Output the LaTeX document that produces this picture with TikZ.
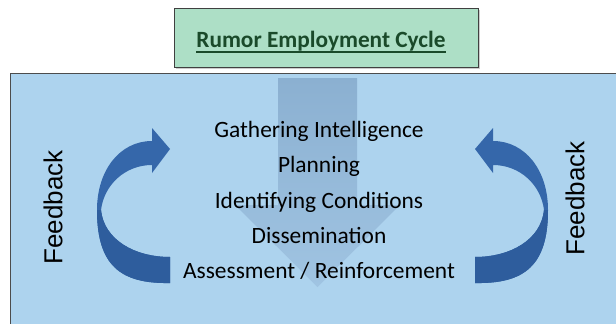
\documentclass[tikz,border=0pt]{standalone}
\usepackage{fontspec}
\setmainfont{Carlito}
\newfontfamily\fbfont{Liberation Sans}
\definecolor{panelblue}{HTML}{ADD3EE}
\definecolor{titlegreen}{HTML}{ADDFC6}
\definecolor{titletext}{HTML}{1A4A2A}
\definecolor{loopblue}{HTML}{3567AA}
\definecolor{loopdark}{HTML}{2E5D9D}
\definecolor{shafttop}{HTML}{8BB0D1}
\definecolor{shaftbot}{HTML}{A0C4E2}
\begin{document}
\begin{tikzpicture}[x=1pt,y=-1pt,
  stage/.style={font=\fontsize{23.4}{23.4}\selectfont,anchor=base,inner sep=0pt},
  fb/.style={font=\fbfont\fontsize{26}{26}\selectfont,rotate=90,inner sep=0pt}]
 \useasboundingbox (0,0) rectangle (616,324);
 \clip (0,0) rectangle (616,324);
 % title box with its shadow
 \fill[black!20] (176,10) rectangle (480,69);
 \draw[fill=titlegreen,draw=black!75,line width=1pt] (174,8) rectangle (478,67);
 \node[anchor=base,inner sep=0pt,text=titletext,font=\bfseries\fontsize{23.3}{23.3}\selectfont] (title) at (321,47) {Rumor Employment Cycle};
 \draw[titletext,line width=1.6pt] ([yshift=-5pt]title.base west) -- ([yshift=-5pt]title.base east);
 % panel
 \draw[fill=panelblue,draw=black!70,line width=1pt] (10,73) rectangle (630,340);
 % big down arrow
 \shade[top color=shafttop,bottom color=shaftbot] (278,78) -- (357,78) -- (357,205) -- (400,205) -- (317.5,287) -- (235,205) -- (278,205) -- cycle;
 % feedback loops
 \foreach \sx/\dx in {1/0,-1/645}{
   \begin{scope}[shift={(\dx,0)},xscale=\sx]
     \fill[loopblue] (170,283) .. controls (120,284) and (97,265) .. (97,210) .. controls (97,170) and (120,141) .. (152,141) -- (152,128) -- (170,149) -- (152,173) -- (152,165) .. controls (125,165) and (104,185) .. (101,210) .. controls (104,240) and (135,257) .. (170,257) -- cycle;
     \fill[loopdark] (170,283) .. controls (120,284) and (97,265) .. (97,210) -- (101,210) .. controls (104,240) and (135,257) .. (170,257) -- cycle;
   \end{scope}
 }
 % stages
 \node[stage] (gather) at (319,137) {Gathering Intelligence};
 \node[stage] (plan) at (319,172) {Planning};
 \node[stage] (ident) at (319,208) {Identifying Conditions};
 \node[stage] (dissem) at (319,243) {Dissemination};
 \node[stage] (assess) at (319,278) {Assessment / Reinforcement};
 % side labels
 \node[fb] (fbleft) at (53,207.5) {Feedback};
 \node[fb] (fbright) at (575,198.5) {Feedback};
\end{tikzpicture}
\end{document}
